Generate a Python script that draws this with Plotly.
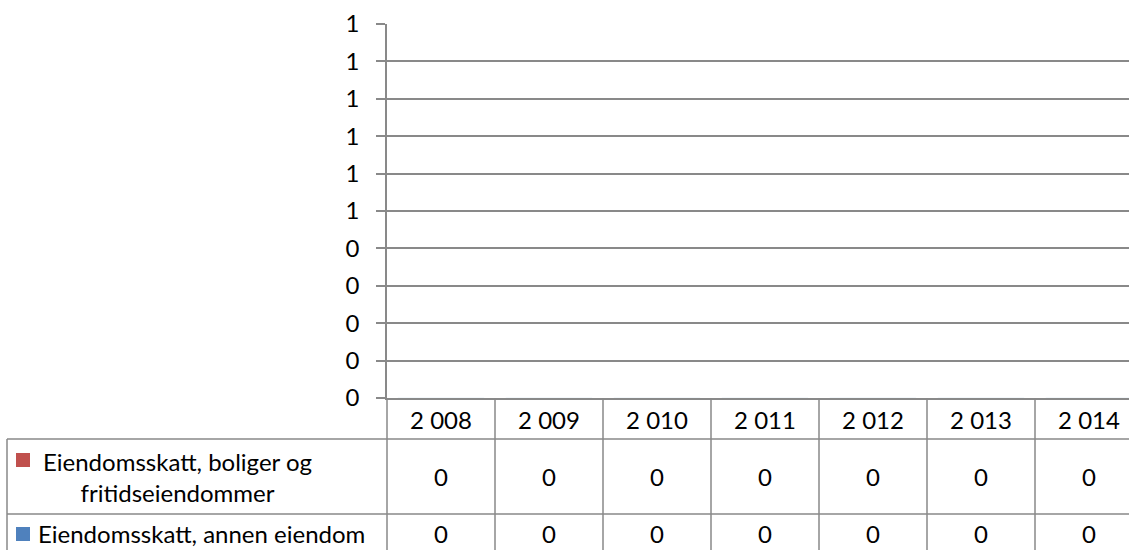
import plotly.graph_objects as go

# ---- data ----
years = ["2 008", "2 009", "2 010", "2 011", "2 012", "2 013", "2 014"]
series_names = ["Eiendomsskatt, boliger og<br>fritidseiendommer", "Eiendomsskatt, annen eiendom"]
boliger_values = [0, 0, 0, 0, 0, 0, 0]
annen_values = [0, 0, 0, 0, 0, 0, 0]
y_ticks = [0.0, 0.1, 0.2, 0.3, 0.4, 0.5, 0.6, 0.7, 0.8, 0.9, 1.0]
y_tick_labels = ["0", "0", "0", "0", "0", "1", "1", "1", "1", "1", "1"]

RED = "#C0504D"
BLUE = "#4F81BD"
GRID = "#898989"
FONT = "Lato"
FS = 24

W, H = 1129, 550
L, R, T, B = 387, 0, 24, 152
PW = W - L - R
PH = H - T - B
COLW = 108  # pixel width of one category column


def px_x(x):
    return (x - L) / PW


def px_y(y):
    return (H - B - y) / PH


fig = go.Figure()
fig.add_trace(go.Bar(x=years, y=boliger_values, marker_color=RED, name="boliger", showlegend=False))
fig.add_trace(go.Bar(x=years, y=annen_values, marker_color=BLUE, name="annen", showlegend=False))

span = PW / COLW
fig.update_layout(
    width=W, height=H,
    margin=dict(l=L, r=R, t=T, b=B, pad=0),
    paper_bgcolor="white", plot_bgcolor="white",
    font=dict(family=FONT, size=FS, color="black"),
    barmode="group",
    hovermode=False,
    xaxis=dict(
        type="category", range=[-0.5, -0.5 + span],
        showgrid=False, showline=True, linecolor=GRID, linewidth=1.5,
        ticks="", ticklabelstandoff=0, tickfont=dict(family=FONT, size=FS, color="black"),
        fixedrange=True,
    ),
    yaxis=dict(
        range=[0, 1], tickmode="array", tickvals=y_ticks, ticktext=y_tick_labels,
        showgrid=True, gridcolor=GRID, gridwidth=1.5,
        showline=True, linecolor=GRID, linewidth=1.5,
        ticks="outside", ticklen=9, tickcolor=GRID, tickwidth=1.5,
        ticklabelstandoff=12, zeroline=False,
        tickfont=dict(family=FONT, size=FS, color="black"),
        fixedrange=True,
    ),
)

line = dict(color=GRID, width=1.5)
shapes = []
# y-axis line extension through the data table
shapes.append(dict(type="line", xref="paper", yref="paper", x0=0, x1=0, y0=0, y1=px_y(H), line=line))
# column separators in the data table
for i in range(1, len(years)):
    shapes.append(dict(type="line", xref="x", yref="paper", x0=i - 0.5, x1=i - 0.5, y0=0, y1=px_y(H), line=line))
# horizontal table lines
for yy in (439, 514):
    shapes.append(dict(type="line", xref="paper", yref="paper", x0=px_x(7), x1=1, y0=px_y(yy), y1=px_y(yy), line=line))
# left border of the table
shapes.append(dict(type="line", xref="paper", yref="paper", x0=px_x(7), x1=px_x(7), y0=px_y(439), y1=px_y(H), line=line))
# legend keys
shapes.append(dict(type="rect", xref="paper", yref="paper", x0=px_x(16), x1=px_x(30), y0=px_y(453), y1=px_y(467),
                   fillcolor=RED, line=dict(width=0)))
shapes.append(dict(type="rect", xref="paper", yref="paper", x0=px_x(16), x1=px_x(30), y0=px_y(527), y1=px_y(541),
                   fillcolor=BLUE, line=dict(width=0)))
fig.update_layout(shapes=shapes)

annotations = []
row_y = [px_y(476.5), px_y(533)]
annotations.append(dict(text=series_names[0], xref="paper", yref="paper", x=px_x(178), y=row_y[0],
                        xanchor="center", yanchor="middle", align="center", showarrow=False,
                        font=dict(family=FONT, size=FS, color="black")))
annotations.append(dict(text=series_names[1], xref="paper", yref="paper", x=px_x(36), y=row_y[1],
                        xanchor="left", yanchor="middle", align="left", showarrow=False,
                        font=dict(family=FONT, size=FS, color="black")))
for vals, yy in zip([boliger_values, annen_values], row_y):
    for cat, v in zip(years, vals):
        annotations.append(dict(text=str(v), xref="x", yref="paper", x=cat, y=yy,
                                xanchor="center", yanchor="middle", showarrow=False,
                                font=dict(family=FONT, size=FS, color="black")))
fig.update_layout(annotations=annotations)

fig.write_html(
    "out.html",
    config={"displayModeBar": False},
    post_script="document.body.style.margin='0';document.body.style.overflow='hidden';",
)
